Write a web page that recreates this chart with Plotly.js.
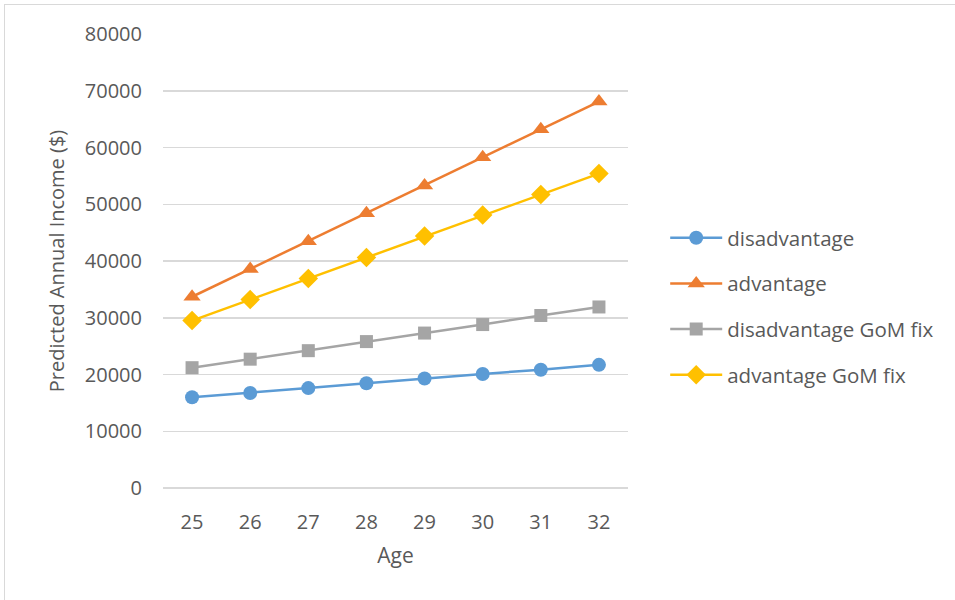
<!DOCTYPE html>
<html>
<head>
<meta charset="utf-8">
<script src="https://cdn.plot.ly/plotly-3.0.1.min.js"></script>
<style>
  html, body { margin: 0; padding: 0; background: #fff; }
  #wrap { position: relative; width: 955px; height: 600px; overflow: hidden; }
  #frame { position: absolute; left: 4px; top: 4px; width: 960px; height: 610px;
           border: 1px solid #d9d9d9; box-sizing: border-box; pointer-events: none; }
  #chart { position: absolute; left: 0; top: 0; width: 955px; height: 600px; }
</style>
</head>
<body>
<div id="wrap">
  <div id="chart"></div>
  <div id="frame"></div>
</div>
<script>
// Predicted annual income by age
const ages = [25, 26, 27, 28, 29, 30, 31, 32];
const disadvantage = [16000, 16750, 17600, 18450, 19300, 20100, 20850, 21700];
const advantage = [33700, 38600, 43500, 48400, 53300, 58300, 63200, 68100];
const disadvantageGoM = [21200, 22700, 24200, 25800, 27300, 28800, 30400, 31900];
const advantageGoM = [29500, 33200, 36900, 40600, 44400, 48100, 51700, 55400];

const seriesNames = ['disadvantage', 'advantage', 'disadvantage GoM fix', 'advantage GoM fix'];
const seriesValues = [disadvantage, advantage, disadvantageGoM, advantageGoM];
const seriesColors = ['#5B9BD5', '#ED7D31', '#A5A5A5', '#FFC000'];
const seriesSymbols = ['circle', 'triangle-up', 'square', 'diamond'];
const seriesSizes = [14, 15, 13, 15];

const traces = seriesNames.map((name, i) => ({
  type: 'scatter',
  mode: 'lines+markers',
  name: name,
  legendgroup: 'g' + i,
  x: ages,
  y: seriesValues[i],
  line: { color: seriesColors[i], width: 2.5 },
  marker: { color: seriesColors[i], symbol: seriesSymbols[i], size: seriesSizes[i] },
  cliponaxis: false
}));

const font = '"Open Sans", "DejaVu Sans", sans-serif';

const layout = {
  width: 955,
  height: 600,
  paper_bgcolor: '#ffffff',
  plot_bgcolor: '#ffffff',
  margin: { l: 163, r: 327, t: 34, b: 112, pad: 0 },
  font: { family: font, color: '#595959', size: 20 },
  showlegend: true,
  legend: {
    x: 1.08, xanchor: 'left',
    y: 0.40, yanchor: 'middle',
    traceorder: 'grouped',
    tracegroupgap: 16,
    itemwidth: 52,
    font: { family: font, size: 20.5, color: '#595959' },
    bgcolor: 'rgba(0,0,0,0)'
  },
  xaxis: {
    type: 'linear',
    range: [24.5, 32.5],
    tickvals: ages,
    ticktext: ages.map(String),
    showgrid: false,
    zeroline: false,
    showline: false,
    ticks: 'outside',
    ticklen: 16,
    tickcolor: 'rgba(0,0,0,0)',
    tickfont: { family: font, size: 20, color: '#595959' },
    title: { text: 'Age', font: { family: font, size: 21, color: '#595959' }, standoff: 14 },
    fixedrange: true
  },
  yaxis: {
    range: [0, 80000],
    tick0: 0,
    dtick: 10000,
    tickformat: 'd',
    showgrid: true,
    gridcolor: '#d9d9d9',
    gridwidth: 1.5,
    zeroline: true,
    zerolinecolor: '#d9d9d9',
    zerolinewidth: 1.5,
    showline: false,
    ticks: 'outside',
    ticklen: 16,
    tickcolor: 'rgba(0,0,0,0)',
    tickfont: { family: font, size: 20, color: '#595959' },
    title: { text: 'Predicted Annual Income ($)', font: { family: font, size: 20, color: '#595959' }, standoff: 14 },
    fixedrange: true
  }
};

Plotly.newPlot('chart', traces, layout, { displayModeBar: false, staticPlot: true });
</script>
</body>
</html>
